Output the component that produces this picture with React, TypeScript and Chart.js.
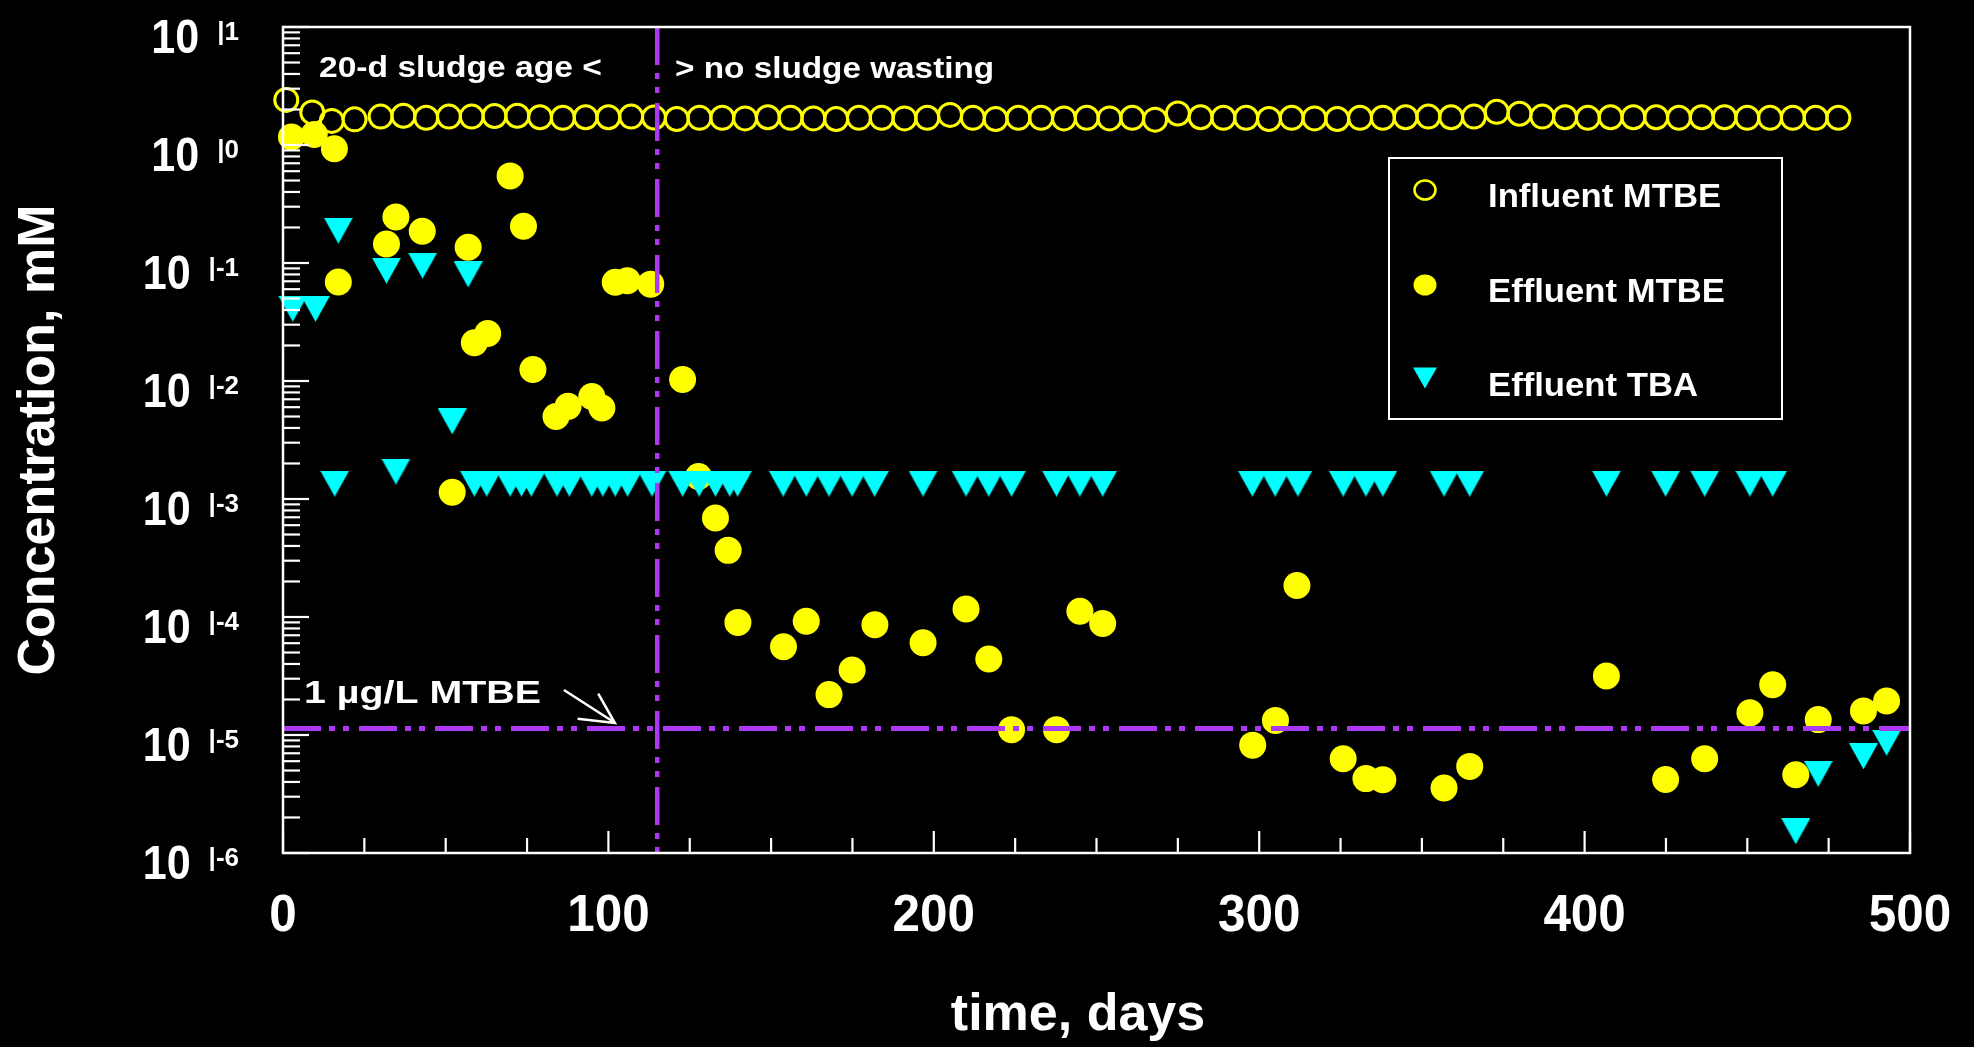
import React, { useEffect, useRef } from "react";
import { Chart, registerables } from "chart.js";

Chart.register(...registerables);

const W = 1974;
const H = 1047;

// ---------------- DATA ----------------
const influentDays = [
  1, 9, 15, 22, 30, 37, 44, 51, 58, 65, 72, 79, 86, 93, 100, 107, 114, 121, 128, 135,
  142, 149, 156, 163, 170, 177, 184, 191, 198, 205, 212, 219, 226, 233, 240, 247, 254, 261,
  268, 275, 282, 289, 296, 303, 310, 317, 324, 331, 338, 345, 352, 359, 366, 373, 380, 387,
  394, 401, 408, 415, 422, 429, 436, 443, 450, 457, 464, 471, 478,
];
const influentMTBE = [
  2.41, 1.89, 1.6, 1.65, 1.74, 1.77, 1.7, 1.74, 1.74, 1.76, 1.77, 1.72, 1.7, 1.72, 1.72, 1.74, 1.71, 1.66, 1.7, 1.7,
  1.68, 1.72, 1.7, 1.68, 1.66, 1.7, 1.7, 1.68, 1.7, 1.8, 1.7, 1.66, 1.7, 1.7, 1.68, 1.7, 1.68, 1.7,
  1.64, 1.85, 1.72, 1.7, 1.7, 1.66, 1.7, 1.68, 1.66, 1.7, 1.7, 1.72, 1.74, 1.72, 1.74, 1.91, 1.84, 1.74,
  1.72, 1.7, 1.72, 1.72, 1.72, 1.7, 1.72, 1.72, 1.7, 1.7, 1.7, 1.7, 1.7,
];

const effluentDays = [
  2.6, 9.6, 15.8, 17, 31.8, 34.7, 42.8, 52, 56.9, 58.8, 62.9, 69.8, 73.9, 76.8, 83.9,
  87.6, 94.9, 98, 102.1, 105.8, 113, 122.8, 127.7, 132.9, 136.8, 139.8, 153.8, 160.8, 167.8, 174.9,
  181.9, 196.7, 209.9, 216.9, 223.9, 237.7, 244.9, 251.9, 298, 305, 311.6, 325.8, 332.8, 338, 356.8,
  364.7, 406.7, 424.9, 436.9, 450.8, 457.8, 464.9, 471.8, 485.7, 492.8,
];
const effluentMTBE = [
  1.17, 1.23, 0.93, 0.069, 0.145, 0.245, 0.186, 1.14e-3, 0.136, 0.0211, 0.0253, 0.547, 0.205, 0.0125, 5.0e-3,
  6.1e-3, 7.4e-3, 5.9e-3, 0.0686, 0.0708, 0.0662, 0.0103, 1.55e-3, 6.9e-4, 3.67e-4, 9.0e-5, 5.6e-5, 9.2e-5, 2.2e-5, 3.55e-5,
  8.6e-5, 6.05e-5, 1.17e-4, 4.4e-5, 1.11e-5, 1.11e-5, 1.12e-4, 8.8e-5, 8.2e-6, 1.33e-5, 1.85e-4, 6.3e-6, 4.27e-6, 4.17e-6, 3.56e-6,
  5.42e-6, 3.16e-5, 4.2e-6, 6.3e-6, 1.54e-5, 2.67e-5, 4.6e-6, 1.35e-5, 1.6e-5, 1.94e-5,
];

const tbaDays = [
  3, 10, 15.9, 17, 31.8, 34.7, 42.9, 52, 56.9,
  58.8, 62.6, 69.8, 73.3, 76.3, 84.2, 88, 94.9, 98.3, 102.1, 105.9, 113.4, 122.8, 127.9, 132.9,
  137.3, 139.7, 153.7, 160.8, 167.8, 174.9, 181.8, 196.7, 209.9, 216.9, 223.9, 237.7, 244.9, 251.9,
  297.9, 304.9, 311.9, 325.8, 332.8, 338, 356.8, 364.7, 406.7, 424.9, 436.9, 450.8, 457.8,
  464.9, 471.8, 485.7, 492.8,
];
const effluentTBA = [
  0.041, 0.041, 1.35e-3, 0.188, 0.086, 1.71e-3, 0.095, 4.55e-3, 0.08,
  1.35e-3, 1.35e-3, 1.35e-3, 1.35e-3, 1.35e-3, 1.35e-3, 1.35e-3, 1.35e-3, 1.35e-3, 1.35e-3, 1.35e-3, 1.35e-3, 1.35e-3, 1.35e-3, 1.35e-3,
  1.35e-3, 1.35e-3, 1.35e-3, 1.35e-3, 1.35e-3, 1.35e-3, 1.35e-3, 1.35e-3, 1.35e-3, 1.35e-3, 1.35e-3, 1.35e-3, 1.35e-3, 1.35e-3,
  1.35e-3, 1.35e-3, 1.35e-3, 1.35e-3, 1.35e-3, 1.35e-3, 1.35e-3, 1.35e-3, 1.35e-3, 1.35e-3, 1.35e-3, 1.35e-3, 1.35e-3,
  1.53e-6, 4.7e-6, 6.6e-6, 8.6e-6,
];

const xTickLabels = [0, 100, 200, 300, 400, 500];
const xMinorStep = 25;
const yExponents = [1, 0, -1, -2, -3, -4, -5, -6];
const seriesNames = ["Influent MTBE", "Effluent MTBE", "Effluent TBA"];
const sludgeChangeDay = 115;
const mtbeOneMicrogramPerL = 1.134e-5;

// ---------------- STYLE ----------------
const YELLOW = "#ffff00";
const CYAN = "#00ffff";
const PURPLE = "#aa38f4";
const WHITE = "#ffffff";
const FONT = "'Liberation Sans', Arial, Helvetica, sans-serif";

function drawText(
  ctx: CanvasRenderingContext2D,
  s: string,
  x: number,
  y: number,
  size: number,
  sx: number,
  align: "left" | "center" | "right"
): number {
  ctx.save();
  ctx.font = `bold ${size}px ${FONT}`;
  ctx.textBaseline = "alphabetic";
  ctx.textAlign = "left";
  ctx.fillStyle = WHITE;
  const w = ctx.measureText(s).width * sx;
  let x0 = x;
  if (align === "center") x0 = x - w / 2;
  else if (align === "right") x0 = x - w;
  ctx.translate(x0, y);
  ctx.scale(sx, 1);
  ctx.fillText(s, 0, 0);
  ctx.restore();
  return w;
}

function makeTriangle(w: number, h: number, color: string): HTMLCanvasElement {
  const c = document.createElement("canvas");
  c.width = w;
  c.height = h;
  const g = c.getContext("2d")!;
  g.fillStyle = color;
  g.beginPath();
  g.moveTo(0, 0);
  g.lineTo(w, 0);
  g.lineTo(w / 2, h);
  g.closePath();
  g.fill();
  return c;
}

const decorPlugin = {
  id: "decor",
  beforeDraw(chart: any) {
    const ctx = chart.ctx as CanvasRenderingContext2D;
    ctx.save();
    ctx.fillStyle = "#000";
    ctx.fillRect(0, 0, chart.width, chart.height);
    ctx.restore();
  },
  afterDatasetsDraw(chart: any) {
    const ctx = chart.ctx as CanvasRenderingContext2D;
    const a = chart.chartArea;
    const xs = chart.scales.x;
    const ys = chart.scales.y;

    // dash-dot reference lines
    ctx.save();
    ctx.strokeStyle = PURPLE;
    ctx.lineWidth = 5;
    ctx.setLineDash([38, 8, 6, 8, 6, 10]);
    const yl = ys.getPixelForValue(mtbeOneMicrogramPerL);
    ctx.beginPath();
    ctx.moveTo(a.left, yl);
    ctx.lineTo(a.right, yl);
    ctx.stroke();
    const xl = xs.getPixelForValue(sludgeChangeDay);
    ctx.lineWidth = 4.5;
    ctx.beginPath();
    ctx.moveTo(xl, a.top);
    ctx.lineTo(xl, a.bottom);
    ctx.stroke();
    ctx.restore();

    // frame
    ctx.save();
    ctx.strokeStyle = WHITE;
    ctx.lineWidth = 2.5;
    ctx.strokeRect(a.left, a.top, a.right - a.left, a.bottom - a.top);

    // y ticks
    ctx.lineWidth = 2.2;
    for (const e of yExponents) {
      const yp = ys.getPixelForValue(Math.pow(10, e));
      ctx.beginPath();
      ctx.moveTo(a.left, yp);
      ctx.lineTo(a.left + 26, yp);
      ctx.stroke();
      if (e < 1) {
        for (let k = 2; k <= 9; k++) {
          const ym = ys.getPixelForValue(k * Math.pow(10, e));
          ctx.beginPath();
          ctx.moveTo(a.left, ym);
          ctx.lineTo(a.left + 17, ym);
          ctx.stroke();
        }
      }
    }
    // x ticks
    for (let d = 0; d <= 500; d += xMinorStep) {
      const xp = xs.getPixelForValue(d);
      const len = d % 100 === 0 ? 22 : 15;
      ctx.beginPath();
      ctx.moveTo(xp, a.bottom);
      ctx.lineTo(xp, a.bottom - len);
      ctx.stroke();
    }
    ctx.restore();

    // y tick labels
    for (const e of yExponents) {
      const yp = ys.getPixelForValue(Math.pow(10, e));
      const sup = "|" + String(e);
      const ws = drawText(ctx, sup, 239, yp + 12.5, 26, 1, "right");
      drawText(ctx, "10", 239 - ws - 18, yp + 26, 49, 0.88, "right");
    }
    // x tick labels
    for (const v of xTickLabels) {
      drawText(ctx, String(v), xs.getPixelForValue(v), 931, 52, 0.95, "center");
    }

    // axis titles
    drawText(ctx, "time, days", 1078, 1030, 52, 1, "center");
    ctx.save();
    ctx.translate(54, (a.top + a.bottom) / 2);
    ctx.rotate(-Math.PI / 2);
    drawText(ctx, "Concentration, mM", 0, 0, 52, 1, "center");
    ctx.restore();

    // annotations
    drawText(ctx, "20-d sludge age <", 319, 77, 30, 1.12, "left");
    drawText(ctx, "> no sludge wasting", 675, 78, 30, 1.11, "left");
    drawText(ctx, "1 \u00b5g/L MTBE", 304, 703, 31, 1.27, "left");

    // arrow
    const tipX = xs.getPixelForValue(102);
    const tipY = yl - 5.5;
    ctx.save();
    ctx.strokeStyle = WHITE;
    ctx.lineWidth = 2.5;
    ctx.beginPath();
    ctx.moveTo(tipX - 51, tipY - 33);
    ctx.lineTo(tipX - 2, tipY - 1.5);
    ctx.moveTo(tipX - 16.7, tipY - 29.4);
    ctx.lineTo(tipX, tipY);
    ctx.lineTo(tipX - 37.3, tipY - 4.4);
    ctx.stroke();
    ctx.restore();

    // legend
    const lx = 1389, ly = 158, lw = 393, lh = 261;
    ctx.save();
    ctx.strokeStyle = WHITE;
    ctx.lineWidth = 2;
    ctx.strokeRect(lx, ly, lw, lh);
    const rowsY = [190, 285, 378];
    const mx = 1425;
    ctx.strokeStyle = YELLOW;
    ctx.lineWidth = 2.5;
    ctx.beginPath();
    ctx.ellipse(mx, rowsY[0], 10.5, 9.5, 0, 0, Math.PI * 2);
    ctx.stroke();
    ctx.fillStyle = YELLOW;
    ctx.beginPath();
    ctx.ellipse(mx, rowsY[1], 11.5, 10.5, 0, 0, Math.PI * 2);
    ctx.fill();
    ctx.fillStyle = CYAN;
    ctx.beginPath();
    ctx.moveTo(mx - 12, rowsY[2] - 10.5);
    ctx.lineTo(mx + 12, rowsY[2] - 10.5);
    ctx.lineTo(mx, rowsY[2] + 10.5);
    ctx.closePath();
    ctx.fill();
    ctx.restore();
    const textBase = [207, 302, 396];
    seriesNames.forEach((n, i) => drawText(ctx, n, 1488, textBase[i], 34, 1.02, "left"));
  },
};

export default function App() {
  const ref = useRef<HTMLCanvasElement | null>(null);

  useEffect(() => {
    if (!ref.current) return;
    const tri = makeTriangle(29, 26, CYAN);
    const chart = new Chart(ref.current, {
      type: "scatter",
      data: {
        datasets: [
          {
            label: seriesNames[2],
            data: tbaDays.map((d, i) => ({ x: d, y: effluentTBA[i] })),
            pointStyle: tri as any,
            pointRadius: 14,
            backgroundColor: CYAN,
            borderColor: CYAN,
            borderWidth: 0,
            clip: false as any,
          },
          {
            label: seriesNames[1],
            data: effluentDays.map((d, i) => ({ x: d, y: effluentMTBE[i] })),
            pointStyle: "circle",
            pointRadius: 13.5,
            backgroundColor: YELLOW,
            borderColor: YELLOW,
            borderWidth: 0,
            clip: false as any,
          },
          {
            label: seriesNames[0],
            data: influentDays.map((d, i) => ({ x: d, y: influentMTBE[i] })),
            pointStyle: "circle",
            pointRadius: 11.5,
            backgroundColor: "rgba(0,0,0,0)",
            borderColor: YELLOW,
            borderWidth: 3,
            clip: false as any,
          },
        ],
      },
      options: {
        responsive: false,
        animation: false,
        devicePixelRatio: 1,
        events: [],
        layout: { autoPadding: false, padding: { left: 283, right: 64, top: 27, bottom: 194 } },
        scales: {
          x: { type: "linear", min: 0, max: 500, display: false },
          y: { type: "logarithmic", min: 1e-6, max: 10, display: false },
        },
        plugins: { legend: { display: false }, tooltip: { enabled: false } },
      },
      plugins: [decorPlugin],
    });
    return () => chart.destroy();
  }, []);

  return (
    <div style={{ position: "fixed", left: 0, top: 0, width: W, height: H, background: "#000" }}>
      <canvas ref={ref} width={W} height={H} style={{ display: "block", width: W, height: H }} />
    </div>
  );
}
